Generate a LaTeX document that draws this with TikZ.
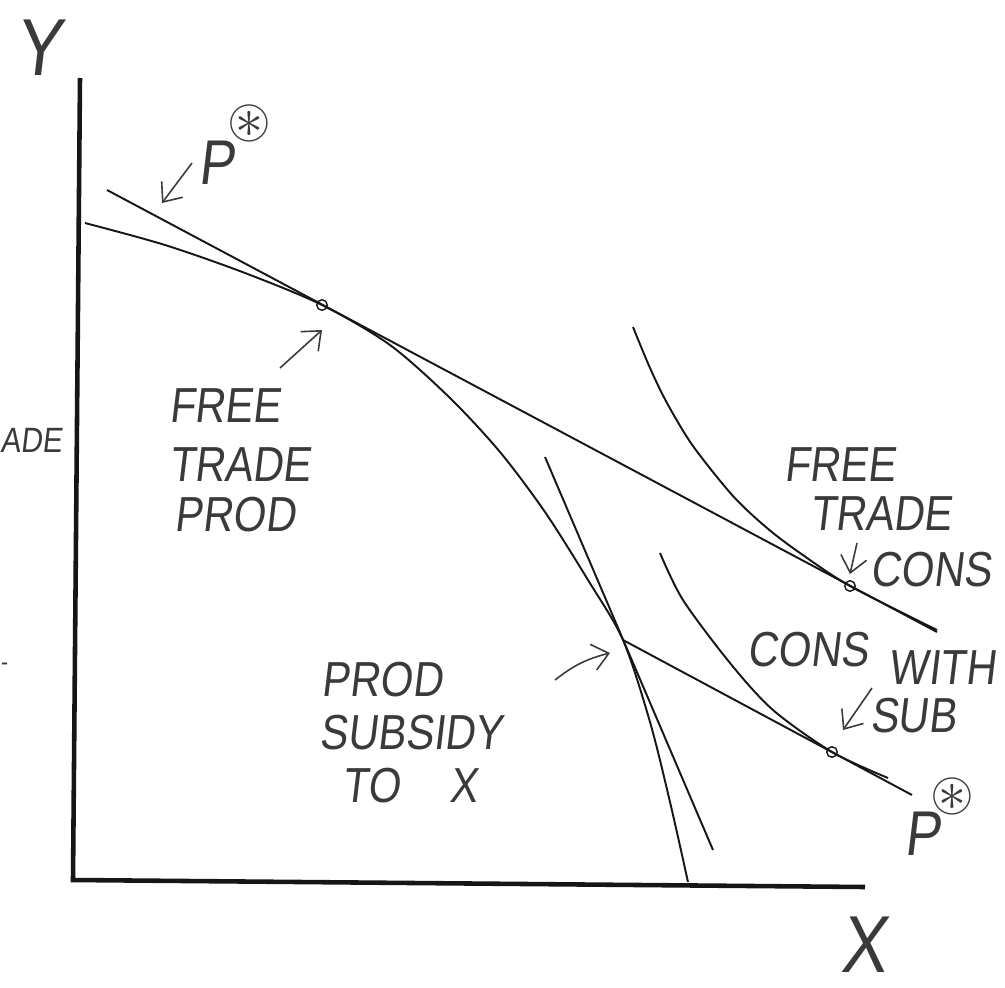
\documentclass[tikz,border=0pt]{standalone}
\usepackage{fontspec}
\usepackage{amssymb}
\usetikzlibrary{arrows.meta}
\newfontfamily\handfont[FakeStretch=0.85,FakeSlant=0.12]{Liberation Sans}
\definecolor{ink}{HTML}{161616}
\definecolor{pencil}{HTML}{3A3A3A}

\begin{document}
\begin{tikzpicture}[x=0.02cm, y=-0.02cm,
  axis/.style={line width=2.6pt, color=ink},
  curve/.style={line width=1.1pt, color=ink},
  hand/.style={font=\handfont\fontsize{28}{30}\selectfont, text=pencil, inner sep=0pt},
  big/.style={font=\handfont\fontsize{46}{48}\selectfont, text=pencil, inner sep=0pt},
  pstar/.style={font=\handfont\fontsize{36}{38}\selectfont, text=pencil, inner sep=0pt},
  star/.style={font=\fontsize{32}{34}\selectfont, text=pencil, inner sep=0pt},
  arrow/.style={-{Straight Barb[length=9pt,width=15pt]}, line width=0.9pt, color=pencil},
  dot/.style={circle, draw=ink, line width=0.8pt, inner sep=0pt, minimum size=6pt}
]
\useasboundingbox (0,0) rectangle (1005,988);

% axes
\coordinate (ytop) at (80,78);
\coordinate (o) at (73,880);
\coordinate (xend) at (865,887);
\draw[axis] (ytop) -- (o) -- (xend);
\node[big] (ylab) at (38,48) {Y};
\node[big] (xlab) at (863,945) {X};

% production possibility frontier
\draw[curve] plot[smooth] coordinates {(85,223) (165,245) (245,273) (322,305) (390,345)
  (450,398) (500,452) (545,512) (588,580) (623,640) (650,722) (670,802) (688,882)};

% indifference curves
\draw[curve] plot[smooth] coordinates {(633,327) (650,368) (667,403) (693,446) (733,496)
  (767,528) (800,553) (850,586) (937,630)};
\draw[curve] plot[smooth] coordinates {(660,553) (683,600) (730,663) (773,710) (832,752) (888,778)};

% price lines
\coordinate (ftA) at (107,190);
\coordinate (ftB) at (937,632);
\coordinate (subA) at (545,457);
\coordinate (subB) at (713,850);
\coordinate (conB) at (912,795);
\node[dot] (ftprod) at (322,305) {};
\node[dot] (ftcons) at (850,586) {};
\node[dot] (subcons) at (832,752) {};
\coordinate (subprod) at (623,640);
\draw[curve] (ftA) -- (ftB);
\draw[curve] (subA) -- (subB);
\draw[curve] (subprod) -- (conB);

% labels
\node[pstar] (ptop) at (216,163) {P};
\node[star] (ptopst) at (249,123) {$\circledast$};
\node[pstar] (pbot) at (922,834) {P};
\node[star] (pbotst) at (952,796) {$\circledast$};

\node[hand] (ftp1) at (225,406) {FREE};
\node[hand] (ftp2) at (240,465) {TRADE};
\node[hand] (ftp3) at (235,515) {PROD};

\node[hand] (sp1) at (382,680) {PROD};
\node[hand] (sp2) at (411,733) {SUBSIDY};
\node[hand] (sp3) at (410,786) {TO\quad X};

\node[hand] (ftc1) at (840,465) {FREE};
\node[hand] (ftc2) at (881,514) {TRADE};
\node[hand] (ftc3) at (931,570) {CONS};

\node[hand] (cw1) at (808,650) {CONS};
\node[hand] (cw2) at (942,668) {WITH};
\node[hand] (cw3) at (913,716) {SUB};

\node[hand, font=\handfont\fontsize{20}{22}\selectfont, anchor=west] (cut1) at (0,440) {ADE};
\node[hand, font=\handfont\fontsize{14}{16}\selectfont, anchor=west] (cut2) at (0,667) {-};

% pointers
\coordinate (a1) at (192,163);
\coordinate (a1h) at (162,203);
\coordinate (a2) at (280,368);
\coordinate (a2h) at (322,330);
\coordinate (a3) at (555,680);
\coordinate (a3h) at (610,653);
\coordinate (a4) at (857,543);
\coordinate (a4h) at (850,574);
\coordinate (a5) at (872,688);
\coordinate (a5h) at (843,730);
\draw[arrow] (a1) -- (a1h);
\draw[arrow] (a2) -- (a2h);
\draw[arrow] (a3) to[bend left=12] (a3h);
\draw[arrow] (a4) -- (a4h);
\draw[arrow] (a5) -- (a5h);
\end{tikzpicture}
\end{document}
